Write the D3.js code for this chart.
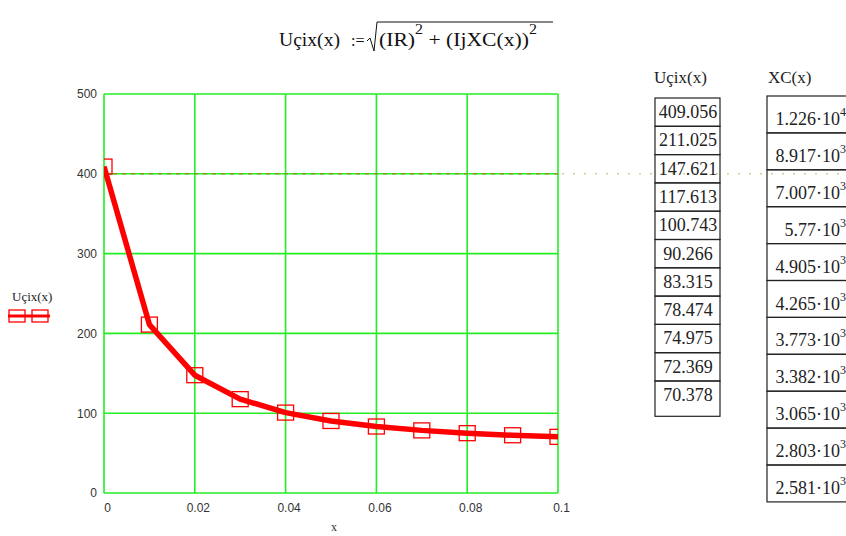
<!DOCTYPE html>
<html>
<head>
<meta charset="utf-8">
<script src="https://cdn.jsdelivr.net/npm/d3@7"></script>
<style>
  body { margin: 0; background: #fff; }
  svg { display: block; }
</style>
</head>
<body>
<svg width="846" height="536"></svg>
<script>
// data
var xValues = [0, 0.01, 0.02, 0.03, 0.04, 0.05, 0.06, 0.07, 0.08, 0.09, 0.1];
var ucixValues = [409.056, 211.025, 147.621, 117.613, 100.743, 90.266, 83.315, 78.474, 74.975, 72.369, 70.378];
var ucixLabels = ['409.056', '211.025', '147.621', '117.613', '100.743', '90.266', '83.315', '78.474', '74.975', '72.369', '70.378'];
var xcMantissa = ['1.226', '8.917', '7.007', '5.77', '4.905', '4.265', '3.773', '3.382', '3.065', '2.803', '2.581'];
var xcExponent = ['4', '3', '3', '3', '3', '3', '3', '3', '3', '3', '3'];
var xTicks = [0, 0.02, 0.04, 0.06, 0.08, 0.1];
var xTickLabels = ['0', '0.02', '0.04', '0.06', '0.08', '0.1'];
var yTicks = [0, 100, 200, 300, 400, 500];
var markerLevel = 400;

var svg = d3.select('svg'),
  serif = '"Liberation Serif", "Times New Roman", serif',
  sans = '"Liberation Sans", Arial, sans-serif',
  green = '#22ee22', red = '#ff0000';

var x = d3.scaleLinear().domain([0, 0.1]).range([104, 558]),
  y = d3.scaleLinear().domain([0, 500]).range([493, 94]);

// title formula
var title = svg.append('g').attr('font-family', serif).attr('font-size', 19).attr('fill', '#111');
title.append('text').attr('x', 279).attr('y', 46).attr('textLength', 61)
  .attr('lengthAdjust', 'spacingAndGlyphs').text('Uçix(x)');
title.append('text').attr('x', 351).attr('y', 46).attr('font-size', 16).text(':=');
var rad = title.append('text').attr('x', 379).attr('y', 46)
  .attr('textLength', 158).attr('lengthAdjust', 'spacingAndGlyphs');
rad.append('tspan').text('(IR)');
rad.append('tspan').attr('dy', -12).attr('font-size', 14).text('2');
rad.append('tspan').attr('dy', 12).text(' + (IjXC(x))');
rad.append('tspan').attr('dy', -12).attr('font-size', 14).text('2');
svg.append('path')
  .attr('d', 'M367,41 L370,38 L374,51 L377,22 L553,22')
  .attr('fill', 'none').attr('stroke', '#111').attr('stroke-width', 1);

// grid
var grid = svg.append('g').attr('stroke', green).attr('stroke-width', 1.6);
grid.selectAll('line.v').data(xTicks).enter().append('line')
  .attr('x1', function (d) { return x(d); }).attr('x2', function (d) { return x(d); })
  .attr('y1', y(0)).attr('y2', y(500));
grid.selectAll('line.h').data(yTicks).enter().append('line')
  .attr('y1', function (d) { return y(d); }).attr('y2', function (d) { return y(d); })
  .attr('x1', x(0)).attr('x2', x(0.1));

// marker line at 400
svg.append('line')
  .attr('x1', x(0)).attr('x2', x(0.1)).attr('y1', y(markerLevel)).attr('y2', y(markerLevel))
  .attr('stroke', '#8a9a20').attr('stroke-width', 1.4).attr('stroke-dasharray', '4,5');
svg.append('line')
  .attr('x1', x(0.1) + 4).attr('x2', 846).attr('y1', y(markerLevel)).attr('y2', y(markerLevel))
  .attr('stroke', '#b8b860').attr('stroke-width', 1).attr('stroke-dasharray', '2,9');

// axes labels
var yAxis = svg.append('g').attr('transform', 'translate(' + (x(0) - 7) + ',0)')
  .call(d3.axisLeft(y).tickValues(yTicks).tickSize(0).tickPadding(0));
var xAxis = svg.append('g').attr('transform', 'translate(3,' + (y(0) + 10) + ')')
  .call(d3.axisBottom(x).tickValues(xTicks).tickSize(0).tickPadding(0)
    .tickFormat(function (d, i) { return xTickLabels[i]; }));
[yAxis, xAxis].forEach(function (g) {
  g.select('.domain').remove();
  g.selectAll('text').attr('font-family', sans).attr('font-size', 12).attr('fill', '#333');
});
svg.append('text').attr('x', 334).attr('y', 531).attr('text-anchor', 'middle')
  .attr('font-family', serif).attr('font-size', 12).attr('fill', '#333').text('x');

// series
svg.append('clipPath').attr('id', 'plot').append('rect')
  .attr('x', x(0)).attr('y', y(500)).attr('width', x(0.1) - x(0)).attr('height', y(0) - y(500));
var plot = svg.append('g').attr('clip-path', 'url(#plot)');
var pts = xValues.map(function (d, i) { return [d, ucixValues[i]]; });
plot.append('path').datum(pts)
  .attr('d', d3.line().x(function (d) { return x(d[0]); }).y(function (d) { return y(d[1]); }))
  .attr('fill', 'none').attr('stroke', red).attr('stroke-width', 5.5).attr('stroke-linejoin', 'round');
plot.selectAll('rect.m').data(pts).enter().append('rect')
  .attr('x', function (d) { return x(d[0]) - 8; }).attr('y', function (d) { return y(d[1]) - 7.5; })
  .attr('width', 16).attr('height', 15)
  .attr('fill', 'none').attr('stroke', red).attr('stroke-width', 1.3);

// legend
svg.append('text').attr('x', 12).attr('y', 301).attr('font-family', serif).attr('font-size', 13)
  .attr('fill', '#222').text('Uçix(x)');
svg.append('line').attr('x1', 8).attr('x2', 50).attr('y1', 316).attr('y2', 316)
  .attr('stroke', red).attr('stroke-width', 3);
[9, 32].forEach(function (lx) {
  svg.append('rect').attr('x', lx).attr('y', 310).attr('width', 16).attr('height', 12)
    .attr('fill', 'none').attr('stroke', red).attr('stroke-width', 1.3);
});

// table Uçix(x)
var t1 = svg.append('g').attr('font-family', serif).attr('font-size', 18).attr('fill', '#222');
t1.append('text').attr('x', 654).attr('y', 83).attr('font-size', 17).text('Uçix(x)');
var rh1 = 28.3, top1 = 98;
t1.selectAll('rect').data(ucixLabels).enter().append('rect')
  .attr('x', 655).attr('y', function (d, i) { return top1 + i * rh1; })
  .attr('width', 65).attr('height', function (d, i) { return i === ucixLabels.length - 1 ? rh1 + 7 : rh1; })
  .attr('fill', 'none').attr('stroke', '#222').attr('stroke-width', 1.2);
t1.selectAll('text.v').data(ucixLabels).enter().append('text')
  .attr('x', 688).attr('y', function (d, i) { return top1 + i * rh1 + 20; })
  .attr('text-anchor', 'middle').text(function (d) { return d; });

// table XC(x)
var t2 = svg.append('g').attr('font-family', serif).attr('font-size', 18).attr('fill', '#222');
t2.append('text').attr('x', 768).attr('y', 83).attr('font-size', 17).text('XC(x)');
var rh2 = 36.9, top2 = 96;
t2.selectAll('rect').data(xcMantissa).enter().append('rect')
  .attr('x', 767).attr('y', function (d, i) { return top2 + i * rh2; })
  .attr('width', 90).attr('height', rh2)
  .attr('fill', 'none').attr('stroke', '#222').attr('stroke-width', 1.2);
var cells = t2.selectAll('text.v').data(xcMantissa).enter().append('text')
  .attr('x', 846).attr('y', function (d, i) { return top2 + i * rh2 + 29; })
  .attr('text-anchor', 'end');
cells.append('tspan').text(function (d) { return d + '·10'; });
cells.append('tspan').attr('dy', -9).attr('font-size', 12).text(function (d, i) { return xcExponent[i]; });
</script>
</body>
</html>
